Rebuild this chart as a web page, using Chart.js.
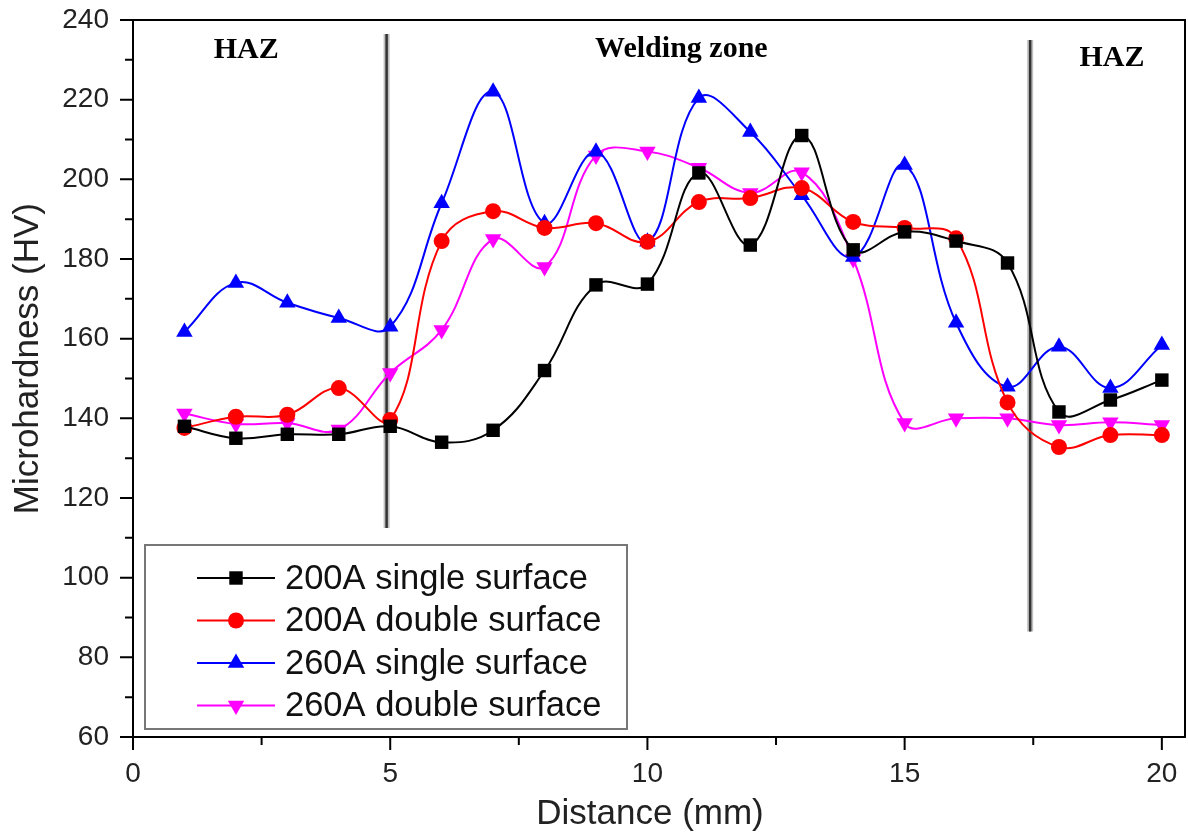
<!DOCTYPE html>
<html lang="en">
<head>
<meta charset="UTF-8" />
<title>Microhardness profile</title>
<script src="https://cdn.jsdelivr.net/npm/chart.js"></script>
<style>
  html, body { margin: 0; background: #fff; overflow: hidden; }
  #wrap { width: 1188px; height: 837px; }
  canvas { display: block; }
</style>
</head>
<body>
<div id="wrap"><canvas id="chart" width="1188" height="837"></canvas></div>
<script>
// distance along the sample (mm)
const distance = [1, 2, 3, 4, 5, 6, 7, 8, 9, 10, 11, 12, 13, 14, 15, 16, 17, 18, 19, 20];

// microhardness (HV)
const single200 = [138, 135, 136, 136, 138, 134, 137, 152, 173.5, 173.7, 201.6, 183.5, 211, 182.3, 186.8, 184.5, 179, 141.6, 144.6, 149.6];
const double200 = [137.6, 140.4, 140.9, 147.6, 139.6, 184.5, 192, 187.8, 189, 184.3, 194.3, 195.3, 197.8, 189.3, 187.8, 185.2, 144, 132.8, 135.8, 135.8];
const single260 = [161.7, 174, 169, 165.2, 163, 194, 222, 189, 206.9, 184.3, 220.4, 211.9, 196, 180.5, 203.6, 164, 147.9, 158, 147.6, 158.4];
const double260 = [141.2, 138.6, 138.8, 137.2, 151.4, 162.2, 185, 178, 206, 207, 202.9, 196.6, 201.8, 180, 138.8, 140, 140, 138.3, 139, 138.3];

const seriesNames = ['200A single surface', '200A double surface', '260A single surface', '260A double surface'];
const seriesColors = ['#000000', '#ff0000', '#0000ff', '#ff00ff'];

// zone labels and boundaries
const zoneLabels = ['HAZ', 'Welding zone', 'HAZ'];
const zoneLabelX = [2.2, 10.66, 19.03];
const zoneLabelY = [232.3, 232.7, 230.5];
const boundaryX = [4.93, 17.44];
const boundaryTop = [236.5, 235];
const boundaryBottom = [112.5, 86.5];

const xMajor = [0, 5, 10, 15, 20];
const xMinor = [2.5, 7.5, 12.5, 17.5];
const yMajor = [60, 80, 100, 120, 140, 160, 180, 200, 220, 240];
const yMinor = [70, 90, 110, 130, 150, 170, 190, 210, 230];

const xTitle = 'Distance (mm)';
const yTitle = 'Microhardness (HV)';

const SANS = '"Liberation Sans", Arial, sans-serif';
const RIGHT_GAP = 3;

const toPoints = arr => arr.map((v, i) => ({ x: distance[i], y: v }));

const markers = [
  { pointStyle: 'rect', radius: 9.5, rotation: 0 },
  { pointStyle: 'circle', radius: 8, rotation: 0 },
  { pointStyle: 'triangle', radius: 9.5, rotation: 0 },
  { pointStyle: 'triangle', radius: 9.5, rotation: 180 }
];

const allData = [single200, double200, single260, double260];

const datasets = allData.map((d, i) => ({
  label: seriesNames[i],
  data: toPoints(d),
  borderColor: seriesColors[i],
  backgroundColor: seriesColors[i],
  borderWidth: 2,
  tension: 0.4,
  pointStyle: markers[i].pointStyle,
  pointRadius: markers[i].radius,
  pointRotation: markers[i].rotation,
  pointBorderWidth: 0
}));

const decorPlugin = {
  id: 'decor',
  // stretch the plot area to the right edge (layout keeps a few px spare)
  afterLayout(chart) {
    const a = chart.chartArea;
    const x = chart.scales.x;
    a.right = chart.width - RIGHT_GAP;
    a.width = a.right - a.left;
    x.right = a.right;
    x.width = x.right - x.left;
    x.configure();
  },
  beforeDatasetsDraw(chart) {
    const { ctx, scales: { x, y } } = chart;
    ctx.save();
    boundaryX.forEach((bx, i) => {
      const px = x.getPixelForValue(bx);
      ctx.beginPath();
      ctx.moveTo(px, y.getPixelForValue(boundaryTop[i]));
      ctx.lineTo(px, y.getPixelForValue(boundaryBottom[i]));
      ctx.strokeStyle = 'rgba(110,110,110,0.45)';
      ctx.lineWidth = 6;
      ctx.stroke();
      ctx.strokeStyle = '#333';
      ctx.lineWidth = 2.5;
      ctx.stroke();
    });
    ctx.fillStyle = '#000';
    ctx.font = 'bold 30px "Liberation Serif", "Times New Roman", serif';
    ctx.textAlign = 'center';
    ctx.textBaseline = 'middle';
    zoneLabels.forEach((t, i) => {
      ctx.fillText(t, x.getPixelForValue(zoneLabelX[i]), y.getPixelForValue(zoneLabelY[i]));
    });
    ctx.restore();
  },
  afterDraw(chart) {
    const { ctx, chartArea: a, scales: { x, y } } = chart;
    ctx.save();
    // frame
    ctx.strokeStyle = '#000';
    ctx.lineWidth = 2;
    ctx.strokeRect(a.left, a.top, a.right - a.left, a.bottom - a.top);
    // tick marks, outward
    ctx.beginPath();
    xMajor.forEach(v => { const p = x.getPixelForValue(v); ctx.moveTo(p, a.bottom); ctx.lineTo(p, a.bottom + 13); });
    xMinor.forEach(v => { const p = x.getPixelForValue(v); ctx.moveTo(p, a.bottom); ctx.lineTo(p, a.bottom + 8); });
    yMajor.forEach(v => { const p = y.getPixelForValue(v); ctx.moveTo(a.left, p); ctx.lineTo(a.left - 13, p); });
    yMinor.forEach(v => { const p = y.getPixelForValue(v); ctx.moveTo(a.left, p); ctx.lineTo(a.left - 8, p); });
    ctx.stroke();

    // axis titles
    ctx.fillStyle = '#222';
    ctx.font = '35px ' + SANS;
    ctx.textAlign = 'center';
    ctx.textBaseline = 'middle';
    ctx.fillText(xTitle, x.getPixelForValue(10.05), 814);
    ctx.save();
    ctx.translate(28, y.getPixelForValue(155));
    ctx.rotate(-Math.PI / 2);
    ctx.fillText(yTitle, 0, 0);
    ctx.restore();

    // legend box
    const lx = 145, ly = 545, lw = 482, lh = 184;
    ctx.fillStyle = '#fff';
    ctx.fillRect(lx, ly, lw, lh);
    ctx.strokeStyle = '#777';
    ctx.lineWidth = 2;
    ctx.strokeRect(lx, ly, lw, lh);
    ctx.font = '34.5px ' + SANS;
    ctx.textBaseline = 'middle';
    ctx.textAlign = 'left';
    datasets.forEach((ds, i) => {
      const ry = 578 + i * 42.5;
      ctx.strokeStyle = ds.borderColor;
      ctx.lineWidth = 2;
      ctx.beginPath();
      ctx.moveTo(197, ry);
      ctx.lineTo(275, ry);
      ctx.stroke();
      ctx.fillStyle = ds.backgroundColor;
      Chart.helpers.drawPoint(ctx, {
        pointStyle: ds.pointStyle,
        radius: ds.pointRadius,
        rotation: ds.pointRotation,
        borderWidth: 0
      }, 236, ry);
      ctx.fillStyle = '#111';
      ctx.fillText(ds.label, 285, ry + 1);
    });
    ctx.restore();
  }
};

new Chart(document.getElementById('chart'), {
  type: 'line',
  data: { datasets },
  options: {
    responsive: false,
    devicePixelRatio: 1,
    animation: false,
    layout: { padding: { top: 20, right: RIGHT_GAP, left: 0, bottom: 0 } },
    plugins: {
      legend: { display: false },
      tooltip: { enabled: false }
    },
    scales: {
      x: {
        type: 'linear',
        min: 0,
        max: 20.45,
        grid: { display: false, drawTicks: false },
        border: { display: false },
        ticks: {
          stepSize: 5,
          includeBounds: false,
          padding: 0,
          color: '#222',
          font: { size: 28, family: SANS, lineHeight: 2.64 },
          maxRotation: 0,
          callback: v => (v % 5 === 0 ? v : '')
        },
        afterFit: s => { s.height = 100; s.paddingLeft = 0; s.paddingRight = 0; }
      },
      y: {
        min: 60,
        max: 240,
        grid: { display: false, drawTicks: false },
        border: { display: false },
        ticks: {
          stepSize: 20,
          padding: 24,
          color: '#222',
          font: { size: 28, family: SANS }
        },
        afterFit: s => { s.width = 133; s.paddingTop = 0; s.paddingBottom = 0; }
      }
    }
  },
  plugins: [decorPlugin]
});
</script>
</body>
</html>
